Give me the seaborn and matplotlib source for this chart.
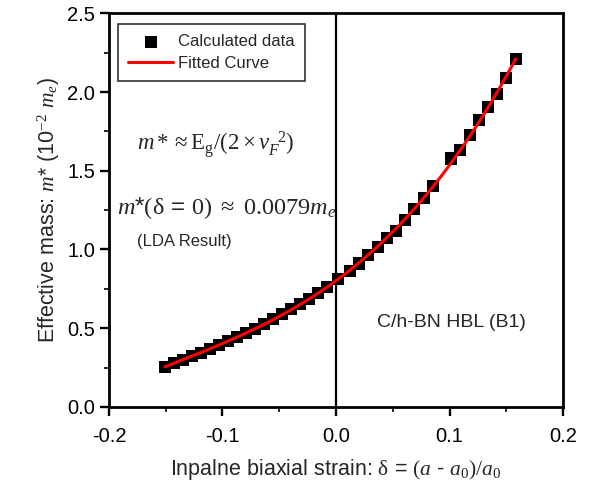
import seaborn as sns
import numpy as np
import matplotlib.pyplot as plt
from matplotlib.ticker import MultipleLocator

# Calculated effective mass vs. inplane biaxial strain
strain = [-0.1507, -0.1428, -0.1349, -0.1270, -0.1190, -0.1111, -0.1032,
          -0.0953, -0.0874, -0.0795, -0.0715, -0.0636, -0.0557, -0.0478,
          -0.0399, -0.0319, -0.0240, -0.0161, -0.0081, 0.0016,
          0.0122, 0.0203, 0.0283, 0.0371, 0.0450, 0.0527, 0.0606, 0.0688,
          0.0773, 0.0855, 0.1017, 0.1096, 0.1178, 0.1257, 0.1339, 0.1422,
          0.1500, 0.1583]
mass = [0.254, 0.278, 0.300, 0.322, 0.344, 0.367, 0.392,
        0.417, 0.443, 0.468, 0.497, 0.525, 0.557, 0.589,
        0.620, 0.652, 0.687, 0.722, 0.760, 0.810,
        0.862, 0.911, 0.964, 1.017, 1.076, 1.116, 1.186, 1.260,
        1.324, 1.404, 1.578, 1.635, 1.726, 1.822, 1.906, 1.985,
        2.090, 2.213]

sns.set_style("ticks")
plt.rcParams['font.family'] = ['Liberation Sans', 'DejaVu Sans']
plt.rcParams['mathtext.fontset'] = 'custom'
plt.rcParams['mathtext.rm'] = 'Liberation Serif'
plt.rcParams['mathtext.it'] = 'Liberation Serif:italic'
plt.rcParams['mathtext.sf'] = 'Liberation Sans'
plt.rcParams['axes.unicode_minus'] = False

fig = plt.figure(figsize=(5.89, 4.95), dpi=100)
ax = fig.add_axes([0.185, 0.178, 0.771, 0.795])

sns.scatterplot(x=strain, y=mass, marker='s', s=75, color='black',
                edgecolor='none', label='Calculated data', ax=ax, zorder=3)
sns.regplot(x=np.array(strain), y=np.array(mass), order=3, ci=None,
            scatter=False, color='red', ax=ax, label='Fitted Curve',
            line_kws={'lw': 2.2, 'zorder': 4})
ax.axvline(0, color='black', lw=1.6, zorder=1)

ax.set_xlim(-0.2, 0.2)
ax.set_ylim(0, 2.5)
ax.xaxis.set_major_locator(MultipleLocator(0.1))
ax.xaxis.set_minor_locator(MultipleLocator(0.05))
ax.yaxis.set_major_locator(MultipleLocator(0.5))
ax.yaxis.set_minor_locator(MultipleLocator(0.25))
ax.tick_params(which='major', direction='out', length=6.5, width=1.7,
               labelsize=14.5, colors='black')
ax.tick_params(axis='x', which='major', pad=8)
ax.tick_params(which='minor', direction='out', length=3.5, width=1.4)
for sp in ax.spines.values():
    sp.set_linewidth(2.0)
    sp.set_color('black')

ax.set_xlabel(r'Inpalne biaxial strain: $\mathrm{\delta}$ = $(a$ - $a_0)/a_0$',
              fontsize=15.5, labelpad=8)
ax.set_ylabel(r'Effective mass: $m$* (10$^{-2}$ $m_e$)', fontsize=15.5)

ax.text(0.062, 0.65, r'$m* \approx \mathrm{E_g}/(2\times v_F^{\ \ 2})$',
        transform=ax.transAxes, fontsize=16.5, va='baseline')
ax.text(0.018, 0.49, r'$m$*$(\mathrm{\delta}$ = $0)\ \approx\ 0.0079m_e$',
        transform=ax.transAxes, fontsize=17.5, va='baseline')
ax.text(0.062, 0.42, '(LDA Result)', transform=ax.transAxes,
        fontsize=12, va='center')
ax.text(0.59, 0.215, 'C/h-BN HBL (B1)', transform=ax.transAxes,
        fontsize=14, va='center')

leg = ax.legend(loc='upper left', bbox_to_anchor=(0.02, 0.972),
                borderaxespad=0, fontsize=12, frameon=True, fancybox=False,
                handlelength=2.7, handletextpad=0.3, borderpad=0.6,
                labelspacing=0.4)
leg.get_frame().set_edgecolor('black')
leg.get_frame().set_linewidth(1.2)

fig.savefig('out.png', dpi=100)
